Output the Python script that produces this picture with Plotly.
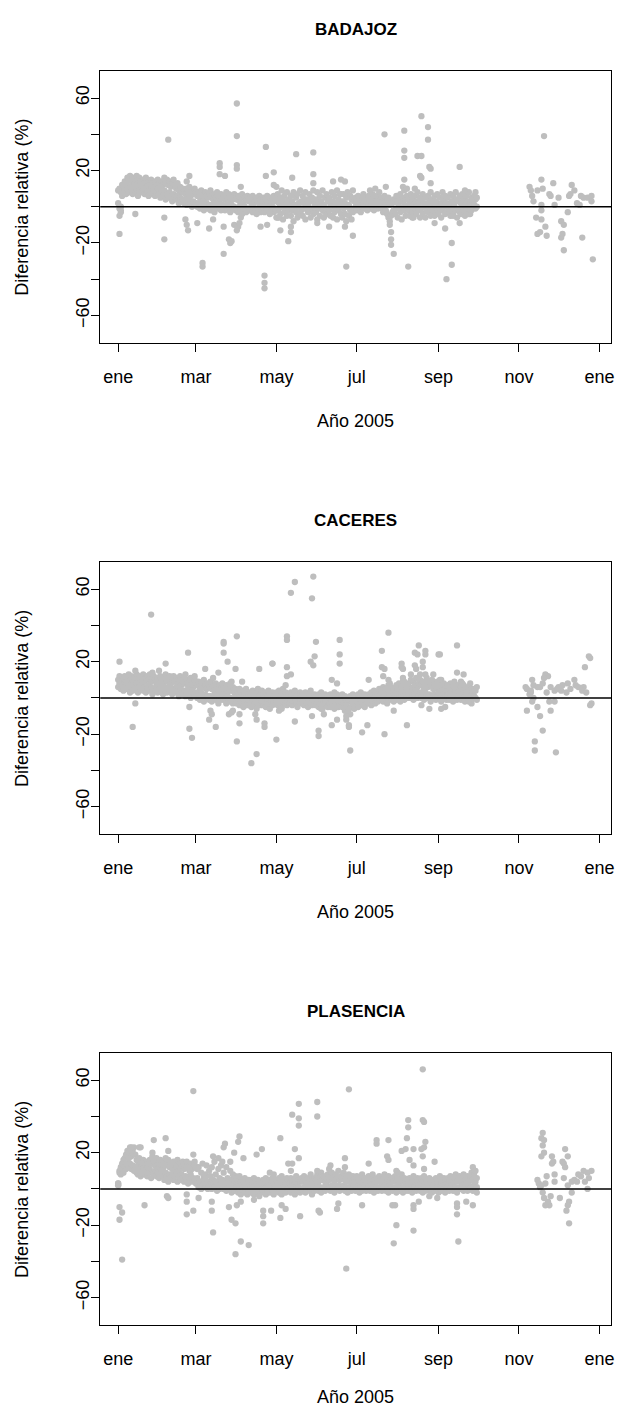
import plotly.graph_objects as go

# ---------------- data (day of year 2005, relative difference %) ----------------
dense_days = list(range(0, 273))  # daily observation dates Jan 1 .. Sep 30

bad_a = [9, 10, 8, 12, 11, 14, 13, 16, 15, 17,
         14, 16, 12, 15, 17, 13, 16, 14, 12, 15,
         13, 16, 11, 14, 12, 15, 13, 11, 14, 12,
         15, 13, 11, 14, 12, 16, 13, 15, 12, 14,
         11, 13, 15, 12, 10, 13, 9, 11, 8, 10,
         9, 7, 10, 8, 11, 6, 9, 7, 10, 8,
         6, 8, 5, 9, 7, 4, 8, 6, 5, 7,
         9, 6, 4, 7, 5, 8, 6, 3, 7, 5,
         6, 4, 8, 5, 7, 3, 6, 4, 7, 5,
         4, 6, 3, 5, 7, 2, 5, 4, 6, 3,
         5, 3, 6, 2, 4, 5, 3, 6, 4, 2,
         5, 3, 4, 6, 2, 5, 3, 4, 6, 3,
         4, 7, 2, 5, 9, 3, 6, 1, 8, 4,
         2, 6, 3, 8, 1, 5, 7, 2, 9, 3,
         6, 2, 8, 4, 1, 7, 3, 5, 9, 2,
         4, 8, 2, 6, 3, 9, 1, 5, 7, 3,
         5, 1, 8, 3, 6, 2, 9, 4, 7, 2,
         3, 7, 2, 5, 8, 1, 6, 4, 9, 3,
         5, 3, 6, 4, 2, 5, 7, 3, 5, 4,
         6, 3, 5, 7, 4, 6, 3, 5, 8, 4,
         5, 3, 6, 2, 4, 5, 1, 3, 2, 4,
         3, 6, 2, 4, 7, 3, 5, 1, 4, 6,
         5, 2, 7, 4, 1, 6, 3, 8, 2, 5,
         4, 7, 2, 5, 1, 6, 3, 8, 4, 2,
         6, 3, 7, 1, 5, 2, 8, 4, 6, 2,
         5, 1, 7, 3, 6, 2, 8, 4, 3, 6,
         2, 7, 4, 1, 6, 3, 8, 2, 5, 3,
         6, 4, 5]
bad_b = [2, -1, 0, 6, 8, 9, 7, 10, 8, 11,
         9, 7, 11, 8, 10, 6, 9, 12, 8, 10,
         7, 10, 8, 6, 9, 11, 7, 9, 6, 8,
         10, 7, 5, 8, 6, 9, 4, 7, 5, 8,
         6, 3, 7, 5, 4, 6, 2, 5, 3, 4,
         2, 4, 1, 3, 5, 2, 0, 3, 1, 2,
         0, 2, -1, 1, 3, -2, 0, 2, -1, 1,
         -2, 1, 0, -3, 2, -1, 1, 0, -2, 1,
         0, -2, 1, -1, 0, -3, 1, -1, 0, -2,
         -1, -3, 0, -2, -4, -1, 0, -3, -2, -1,
         -2, 0, -3, -1, -2, -4, -1, 0, -3, -2,
         -1, -3, 0, -2, -1, -4, -2, 0, -3, -1,
         -2, -6, -1, -4, 0, -7, -3, -1, -5, -2,
         0, -5, -2, -8, -1, -3, -6, 0, -4, -2,
         -5, -1, -7, 0, -3, -2, -6, -1, -4, 0,
         -3, -7, -1, -5, 0, -2, -6, -3, -1, -4,
         -2, -5, 0, -6, -3, -1, -7, -2, 0, -4,
         -6, -1, -4, -8, 0, -5, -2, -7, -3, -1,
         0, -2, 1, -1, -3, 0, 2, -1, 1, -2,
         1, -1, 2, 0, -2, 1, 3, -1, 0, 2,
         -1, -3, 0, -2, -4, -6, -8, -5, -3, -2,
         -4, -1, -6, 0, -3, -7, -1, -2, -5, 0,
         -2, -5, 0, -3, -6, -1, -4, 0, -2, -6,
         -1, -4, 0, -6, -2, -3, 0, -5, -1, -3,
         -5, 0, -2, -4, -1, -6, -2, 0, -4, -3,
         0, -3, -5, -1, -4, 0, -2, -6, -1, -3,
         -4, 0, -2, -5, -1, -3, 0, -4, -2, 0,
         1, -1, 0]
bad_extra = [(90, 57), (90, 39), (38, 37), (112, 33), (90, 23), (90, 21), (77, 24), (77, 22),
             (77, 18), (81, 17), (54, 17), (52, 14), (93, 11), (112, 17), (118, 19), (1, -15),
             (1, -5), (2, -2), (2, -3), (13, -4), (35, -6), (35, -18), (51, -7), (52, -10),
             (53, -13), (60, -9), (64, -31), (64, -33), (69, -12), (72, -7), (80, -11), (80, -26),
             (84, -18), (85, -20), (86, -19), (88, -10), (90, -13), (91, -11), (92, -9), (93, -6),
             (108, -11), (111, -38), (111, -42), (111, -45), (113, -10), (115, -3), (120, -6),
             (202, 40), (217, 42), (217, 31), (217, 27), (230, 50), (235, 44), (235, 37), (227, 28),
             (230, 28), (236, 22), (237, 21), (229, 17), (230, 16), (237, 13), (217, 15), (216, 11),
             (217, 9), (219, 10), (225, 10), (203, 11), (195, 10), (191, 9), (135, 29), (148, 30),
             (148, 18), (148, 13), (132, 16), (118, 12), (120, 11), (163, 14), (169, 15), (172, 14),
             (169, 7), (123, -13), (129, -19), (131, -14), (131, -11), (122, -6), (151, -9),
             (160, -11), (173, -33), (178, -16), (172, -11), (207, -14), (207, -18), (207, -21),
             (209, -26), (206, -10), (220, -33), (223, -6), (240, -9), (248, -12), (249, -40),
             (259, 22), (253, -20), (253, -32), (259, -9), (254, -5), (263, 9), (271, 8), (266, -4),
             (267, -2),
             (323, 39), (321, 15), (330, 13), (344, 12), (312, 11), (313, 9), (314, 6), (315, 3),
             (318, 9), (322, 10), (327, 7), (328, 6), (334, 5), (342, 6), (343, 7), (346, 9),
             (351, 6), (353, 5), (356, 5), (359, 6), (359, 3), (331, 1), (341, -3), (317, -6),
             (321, -7), (324, -11), (318, -15), (320, -14), (325, -16), (336, -8), (338, -10),
             (336, -17), (337, -15), (338, -24), (352, -17), (360, -29), (348, 2), (350, 1),
             (321, -2), (321, 1)]

cac_a = [10, 12, 9, 11, 10, 12, 9, 11, 13, 10,
         12, 9, 11, 10, 13, 9, 12, 10, 11, 13,
         9, 11, 12, 10, 13, 9, 11, 12, 10, 8,
         11, 9, 12, 10, 8, 11, 13, 9, 10, 12,
         8, 10, 12, 9, 11, 8, 10, 12, 7, 9,
         11, 8, 10, 7, 9, 11, 8, 6, 10, 8,
         7, 9, 5, 8, 6, 10, 7, 5, 8, 6,
         9, 5, 7, 4, 8, 6, 3, 7, 5, 8,
         6, 4, 7, 3, 5, 8, 4, 6, 3, 5,
         4, 2, 5, 3, 1, 4, 2, 5, 3, 1,
         3, 1, 4, 2, 0, 3, 5, 1, 2, 4,
         2, 0, 3, 1, 4, 2, -1, 3, 1, 2,
         3, 1, 4, 0, 2, 5, 1, 3, 0, 2,
         1, 3, 0, 2, 4, 1, 2, 0, 3, 1,
         2, 0, 3, 1, -1, 2, 4, 1, 0, 2,
         1, -1, 2, 0, 3, 1, -2, 2, 0, 1,
         0, 2, -1, 1, 3, 0, 2, -2, 1, 0,
         2, -1, 1, -3, 0, -2, 1, -1, 2, 0,
         1, -1, 2, 0, 3, 1, -1, 2, 0, 1,
         2, 0, 3, 1, 4, 2, 0, 3, 5, 2,
         4, 6, 3, 5, 2, 7, 4, 6, 3, 5,
         4, 7, 5, 8, 3, 6, 9, 5, 7, 4,
         8, 6, 10, 5, 9, 7, 11, 6, 8, 10,
         7, 9, 5, 8, 11, 6, 9, 7, 10, 5,
         8, 6, 9, 4, 7, 10, 5, 8, 6, 4,
         7, 5, 8, 3, 6, 9, 4, 7, 5, 3,
         6, 4, 7, 5, 3, 6, 4, 8, 5, 3,
         5, 4, 6]
cac_b = [6, 8, 5, 7, 4, 6, 8, 5, 7, 3,
         6, 4, 7, 5, 8, 3, 6, 5, 7, 4,
         6, 3, 5, 7, 4, 6, 2, 5, 4, 6,
         3, 5, 7, 4, 2, 6, 4, 3, 5, 7,
         4, 2, 5, 3, 6, 4, 1, 5, 3, 2,
         4, 1, 3, 5, 2, 0, 4, 2, 1, 3,
         0, 2, -1, 3, 1, -2, 2, 0, 1, -1,
         1, -2, 0, 2, -1, 1, -3, 0, -1, 2,
         -1, 0, -3, 1, -2, 0, -1, -3, 0, -2,
         -3, -1, -4, -2, 0, -5, -3, -1, -4, -2,
         -3, -5, -1, -4, -2, -6, -3, -1, -4, -2,
         -4, -2, -5, -1, -3, -6, -2, -4, -3, -1,
         -2, -4, -1, -3, -5, -2, 0, -3, -4, -1,
         -3, -1, -4, -2, 0, -3, -5, -2, -1, -3,
         -2, -4, -1, -3, -5, -2, -3, -4, -1, -2,
         -4, -2, -5, -3, -1, -6, -3, -2, -4, -5,
         -3, -5, -2, -4, -6, -3, -1, -5, -4, -2,
         -5, -3, -7, -4, -8, -6, -9, -5, -3, -6,
         -4, -2, -5, -3, -1, -4, -2, -5, -3, -1,
         -3, -1, -4, -2, 0, -3, -1, -2, 0, -1,
         0, -2, 1, -1, -3, 0, 2, -1, 1, -2,
         1, -1, 2, 0, -2, 1, 3, -1, 2, 0,
         2, 0, 3, 1, -1, 2, 4, 0, 1, 3,
         0, 2, -1, 3, 1, 0, 2, -2, 1, 0,
         2, -1, 1, 3, 0, -2, 2, 0, 1, -1,
         1, -1, 2, 0, -2, 1, 3, -1, 0, 2,
         -1, 1, 0, -2, 2, 0, -1, 1, -3, 0,
         1, 0, -1]
cac_extra = [(25, 46), (1, 20), (13, 15), (13, -3), (11, -16), (36, 19), (31, 15), (26, 14),
             (53, 25), (51, 13), (58, 12), (54, -5), (54, -17), (56, -22), (66, 16), (72, 11),
             (76, 14), (70, -7), (71, -9), (69, -12), (74, -16), (80, 31), (80, 30), (90, 34),
             (80, 25), (83, 20), (89, 16), (86, 9), (94, 9), (107, 16), (117, 19), (84, -9),
             (86, -8), (87, -7), (92, -9), (92, -14), (90, -24), (101, -36), (105, -31),
             (104, -9), (105, -12), (111, -16), (111, -14), (120, -23),
             (148, 67), (134, 64), (131, 58), (147, 55), (128, 34), (128, 32), (150, 31),
             (168, 32), (168, 24), (168, 19), (149, 23), (148, 18), (146, 20), (117, 19),
             (128, 17), (131, 13), (128, 12), (127, 7), (162, 10), (166, 8), (205, 36),
             (200, 26), (200, 17), (202, 16), (201, 12), (205, 10), (206, 8), (190, 10),
             (215, 19), (216, 16), (215, 17), (216, 11), (217, 9), (228, 29), (225, 25),
             (227, 24), (233, 26), (233, 24), (231, 20), (231, 17), (243, 24), (225, 18),
             (226, 16), (222, 13), (229, 13), (233, 13), (239, 13), (244, 10), (243, 7),
             (122, -7), (124, -6), (134, -13), (147, -10), (152, -18), (152, -21), (156, -9),
             (154, -6), (162, -15), (166, -12), (175, -15), (175, -16), (173, -12), (173, -10),
             (176, -29), (185, -19), (189, -15), (202, -20), (209, -7), (219, -15), (236, -6),
             (230, -4), (245, -6),
             (257, 29), (244, 24), (257, 14), (262, 13), (260, 9), (261, 8), (254, 7), (255, 6),
             (248, -5), (266, -2), (265, 1),
             (357, 23), (358, 22), (354, 17), (359, -3), (358, -4), (324, 13), (326, 12),
             (323, 11), (314, 10), (309, 6), (310, 5), (313, 3), (318, 6), (320, 6), (315, 0),
             (314, -2), (328, 6), (331, 4), (333, 5), (336, 4), (334, 6), (337, 7), (341, 8),
             (346, 10), (347, 7), (349, 6), (353, 6), (352, 4), (331, -2), (327, -2), (310, -7),
             (318, -5), (320, -10), (328, -7), (322, -18), (316, -24), (316, -29), (332, -30),
             (312, 2), (313, 4), (315, 7), (340, 3), (343, 5), (355, 3), (325, 3), (322, 8)]

pla_a = [3, 10, 12, 14, 16, 17, 19, 21, 20, 23,
         18, 21, 23, 19, 16, 13, 17, 15, 12, 16,
         14, 12, 15, 13, 16, 14, 18, 15, 13, 17,
         14, 12, 16, 13, 11, 15, 17, 13, 16, 12,
         14, 11, 15, 13, 12, 16, 10, 14, 12, 15,
         11, 13, 15, 12, 10, 14, 11, 13, 15, 12,
         6, 12, 4, 9, 14, 5, 8, 13, 4, 10,
         7, 12, 5, 15, 8, 4, 11, 6, 13, 5,
         9, 4, 12, 6, 3, 10, 5, 8, 4, 7,
         6, 4, 7, 3, 5, 2, 6, 4, 3, 5,
         2, 5, 3, 6, 4, 2, 5, 3, 4, 2,
         5, 3, 6, 2, 4, 5, 3, 6, 2, 4,
         5, 3, 6, 4, 7, 2, 5, 3, 6, 4,
         3, 6, 4, 2, 5, 7, 3, 5, 4, 6,
         4, 7, 5, 3, 6, 4, 8, 5, 3, 6,
         5, 8, 4, 6, 9, 5, 7, 4, 6, 8,
         5, 7, 9, 6, 4, 8, 6, 10, 5, 7,
         6, 9, 5, 7, 4, 8, 6, 3, 7, 5,
         4, 7, 5, 3, 6, 8, 4, 6, 3, 5,
         7, 4, 6, 8, 5, 3, 6, 4, 7, 5,
         3, 6, 8, 4, 5, 7, 3, 6, 4, 5,
         7, 4, 6, 3, 5, 8, 4, 6, 3, 5,
         4, 6, 3, 5, 7, 4, 2, 6, 5, 3,
         6, 4, 7, 3, 5, 2, 6, 4, 3, 5,
         4, 6, 3, 5, 7, 4, 2, 6, 5, 3,
         6, 4, 7, 5, 3, 6, 8, 4, 5, 7,
         4, 6, 8, 5, 3, 7, 4, 6, 9, 5,
         7, 4, 6]
pla_b = [2, 9, 8, 10, 9, 12, 11, 13, 12, 14,
         11, 13, 10, 12, 9, 8, 10, 7, 9, 11,
         8, 10, 7, 9, 11, 6, 9, 8, 10, 7,
         9, 6, 8, 10, 7, 5, 9, 7, 4, 8,
         6, 8, 5, 7, 9, 4, 7, 5, 8, 6,
         4, 7, 5, 3, 6, 8, 4, 6, 5, 3,
         3, 1, 4, 0, 2, 5, 1, 3, 0, 2,
         2, 0, 3, 1, 4, -1, 2, 0, 3, 1,
         0, 2, -1, 1, 3, 0, -2, 1, -1, 2,
         1, -2, 0, -3, 1, -1, -2, 0, -3, -1,
         0, -2, 1, -3, -1, 0, -2, -4, -1, 0,
         -2, 0, -3, -1, 1, -2, 0, -1, -3, 0,
         -1, 1, -2, 0, -3, -1, 1, -2, 0, -1,
         0, -2, 1, -1, -3, 0, -1, 1, -2, 0,
         -1, 1, -2, 0, 2, -1, 0, -3, 1, -1,
         0, 2, -1, 1, -2, 0, 1, -1, 2, 0,
         1, -1, 2, 0, -2, 1, 0, 2, -1, 1,
         0, 2, -1, 1, -2, 0, 1, -1, 0, 2,
         -1, 1, 0, -2, 1, -1, 0, 2, -1, 0,
         1, -1, 0, 2, -2, 0, 1, -1, 0, 1,
         -1, 0, 2, -1, 1, -2, 0, 1, -1, 0,
         1, -2, 0, -1, 1, 0, -2, 1, -1, 0,
         -1, 1, 0, -2, 0, 1, -1, 0, 2, -1,
         0, -2, 1, -1, 0, 2, -1, 0, -2, 1,
         -1, 0, 1, -2, 0, -1, 1, 0, -2, 0,
         1, -1, 0, 2, -1, 0, 1, -2, 0, 1,
         0, 2, -1, 1, 0, -1, 2, 0, 1, -1,
         2, 0, 1]
pla_extra = [(57, 54), (3, -39), (1, -10), (3, -13), (1, -17), (0, 3), (0, 2), (6, 14), (8, 17),
             (10, 21), (10, 23), (17, 23), (16, 23), (20, -9), (17, 9), (19, 11), (22, 12),
             (23, 14), (27, 27), (36, 28), (38, 21), (26, 20), (27, 16), (37, -4), (38, -5),
             (57, 19), (52, 12), (54, 11), (58, 13), (60, 11), (65, 7), (66, 6), (52, -3),
             (52, -7), (52, -14), (57, -12), (61, -5), (71, -7), (71, -12), (72, -24), (72, 18),
             (76, 17), (79, 15), (80, 23), (81, 25), (85, 15), (88, 20), (91, 26), (92, 29),
             (95, 17), (105, 19), (109, 22), (86, -17), (89, -19), (89, -36), (93, -29),
             (99, -31), (84, -10), (90, -9), (93, -7), (110, -12), (110, -15), (110, -19),
             (103, -6), (115, 9), (118, 8),
             (231, 66), (175, 55), (151, 48), (151, 40), (137, 47), (132, 41), (137, 39),
             (137, 35), (123, 28), (134, 22), (137, 17), (129, 14), (132, 14), (131, 10),
             (172, 17), (172, 12), (161, 13), (160, 11), (151, 10), (196, 27), (196, 25),
             (205, 27), (204, 18), (205, 16), (190, 14), (220, 38), (220, 34), (231, 38),
             (232, 37), (219, 28), (215, 21), (218, 22), (224, 22), (233, 26), (232, 23),
             (230, 22), (231, 18), (221, 16), (224, 13), (232, 11), (240, 15), (211, 10),
             (212, 9),
             (116, -12), (123, -16), (124, -9), (127, -11), (138, -15), (152, -12), (153, -13),
             (166, -11), (167, -8), (173, -44), (185, -9), (211, -20), (209, -30), (210, -9),
             (208, -9), (224, -23), (224, -11), (224, -9), (228, -7), (242, -5), (236, -4),
             (258, -29), (257, -14), (257, -10), (257, -8), (264, -7), (269, -9), (269, 12),
             (270, 9), (271, 10), (272, -2),
             (322, 31), (321, 28), (323, 27), (322, 24), (323, 20), (321, 18), (329, 18),
             (330, 15), (329, 14), (339, 22), (341, 18), (337, 15), (338, 14), (339, 12),
             (318, 5), (319, 3), (321, 2), (324, 3), (325, 7), (331, 8), (338, 6), (341, 2),
             (344, 4), (346, 5), (348, 4), (351, 7), (353, 10), (356, 9), (359, 10), (357, 6),
             (354, 4), (322, -2), (323, -5), (326, -7), (327, -9), (324, -9), (328, -4),
             (335, -5), (342, -7), (341, -9), (340, -12), (342, -19), (344, -2), (356, 0),
             (320, 1), (331, 4), (349, 8)]

titles = ["BADAJOZ", "CACERES", "PLASENCIA"]
month_days = [0, 59, 120, 181, 243, 304, 365]
month_labels = ["ene", "mar", "may", "jul", "sep", "nov", "ene"]
y_ticks = [-60, -40, -20, 0, 20, 40, 60]
y_labels = ["\u221260", "", "\u221220", "", "20", "", "60"]

# ---------------- layout ----------------
# the page body keeps its default 8 px margin, so the figure is 610 x 1400
OFF = 8
W, H = 626 - 2 * OFF, 1416 - 2 * OFF
box_left, box_right = 100.7 - OFF, 614.0 - OFF
box_tops = [70.5 - OFF, 561.7 - OFF, 1052.7 - OFF]
box_h = 272.5
FONT = "Liberation Sans, Arial, Helvetica, sans-serif"
GREY = "#BEBEBE"
FS = 18

fig = go.Figure()
panels = [(bad_a, bad_b, bad_extra), (cac_a, cac_b, cac_extra), (pla_a, pla_b, pla_extra)]
annotations = []
for i, (a, b, extra) in enumerate(panels):
    xs = dense_days + dense_days + [e[0] for e in extra]
    ys = a + b + [e[1] for e in extra]
    sfx = "" if i == 0 else str(i + 1)
    fig.add_trace(go.Scatter(x=xs, y=ys, mode="markers", xaxis="x" + sfx, yaxis="y" + sfx,
                             marker=dict(color=GREY, size=6.3, line=dict(width=0)),
                             showlegend=False, hoverinfo="skip"))
    top = box_tops[i]
    bot = top + box_h
    dom_y = [1 - bot / H, 1 - top / H]
    axcommon = dict(showline=True, mirror=True, linecolor="black", linewidth=1.3,
                    showgrid=False, zeroline=False, ticks="outside", ticklen=8,
                    tickwidth=1.3, tickcolor="black",
                    tickfont=dict(family=FONT, size=FS, color="black"))
    fig.update_layout(**{
        "xaxis" + sfx: dict(domain=[box_left / W, box_right / W], range=[-13.6, 373.8],
                            tickmode="array", tickvals=month_days, ticktext=month_labels,
                            anchor="y" + sfx, ticklabelstandoff=9, **axcommon),
        "yaxis" + sfx: dict(domain=dom_y, range=[-75.2, 75.2], tickmode="array",
                            tickvals=y_ticks, ticktext=y_labels, tickangle=-90,
                            anchor="x" + sfx, ticklabelstandoff=-5, **axcommon),
    })
    fig.add_shape(type="line", xref="x" + sfx + " domain", yref="y" + sfx,
                  x0=0, x1=1, y0=0, y1=0, line=dict(color="black", width=1.4))
    cx = (box_left + box_right) / 2 / W
    annotations.append(dict(text="<b>" + titles[i] + "</b>", x=cx, y=1 - (top - 41) / H,
                            xref="paper", yref="paper", showarrow=False,
                            font=dict(family=FONT, size=17, color="black"),
                            xanchor="center", yanchor="middle"))
    annotations.append(dict(text="Año 2005", x=cx, y=1 - min(bot + 78, H - 11) / H,
                            xref="paper", yref="paper", showarrow=False,
                            font=dict(family=FONT, size=FS, color="black"),
                            xanchor="center", yanchor="middle"))
    annotations.append(dict(text="Diferencia relativa (%)", x=(22 - OFF) / W,
                            y=1 - (top + box_h / 2) / H, textangle=-90,
                            xref="paper", yref="paper", showarrow=False,
                            font=dict(family=FONT, size=FS, color="black"),
                            xanchor="center", yanchor="middle"))

fig.update_layout(width=W, height=H, margin=dict(l=0, r=0, t=0, b=0),
                  paper_bgcolor="white", plot_bgcolor="white",
                  annotations=annotations, showlegend=False)
fig.write_html("out.html")
